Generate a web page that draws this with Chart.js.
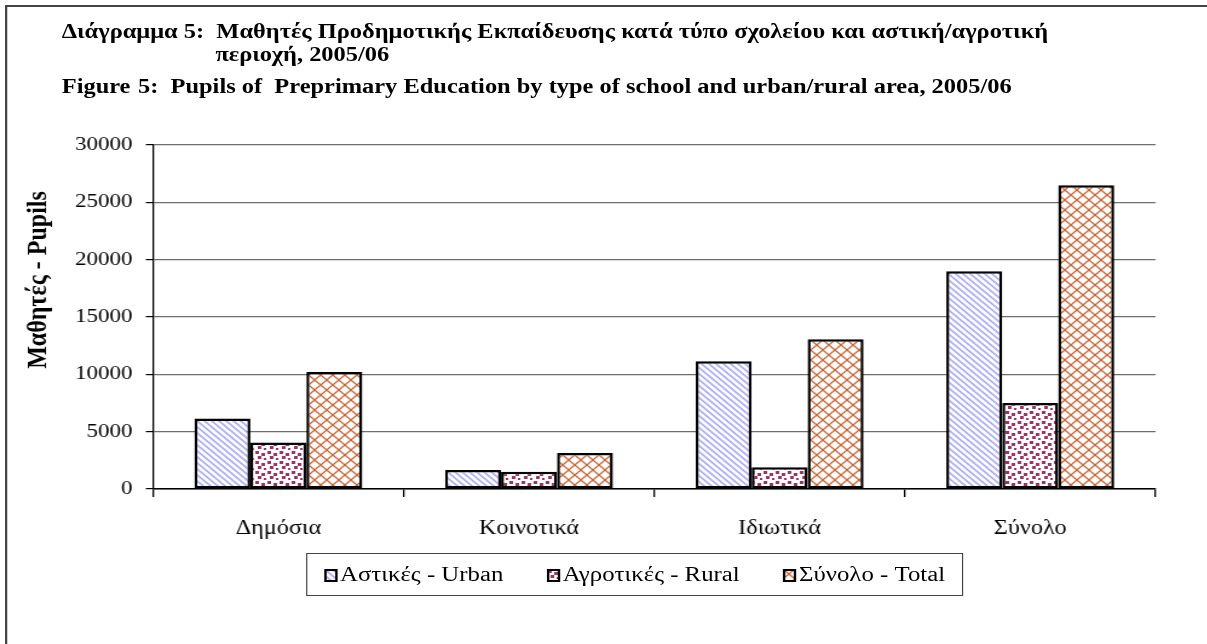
<!DOCTYPE html>
<html>
<head>
<meta charset="utf-8">
<script src="https://cdn.jsdelivr.net/npm/chart.js@4/dist/chart.umd.min.js"></script>
<style>
    body { margin: 0; background: #fff; }
    #wrap { position: relative; width: 1207px; height: 644px; overflow: hidden; }
    /* the reference is stretched sideways, so the whole stage is drawn narrow and scaled */
    #stage { position: absolute; left: 0; top: 0; width: 998px; height: 644px;
             transform: scaleX(1.21); transform-origin: 0 0; }
    #frame { position: absolute; left: 4px; top: 5px; width: 1100px; height: 700px;
             border-left: 2px solid #444; border-top: 2px solid #444; }
    .t { position: absolute; font: bold 20.2px "Liberation Serif", serif; white-space: pre; color: #000; }
    #legend { position: absolute; left: 253px; top: 553px; height: 41px; padding: 0 14px 0 14px;
              border: 1px solid #444; font: 20.5px "Liberation Serif", serif; white-space: nowrap; }
    .item { display: inline-block; margin-right: 36px; line-height: 41px; }
    .item:last-child { margin-right: 0; }
    .item canvas { vertical-align: -1px; margin-right: 2px; }
    canvas#chart { position: absolute; left: 0; top: 0; }
</style>
</head>
<body>
<div id="wrap">
  <div id="stage">
    <canvas id="chart" width="998" height="644"></canvas>
    <div id="frame"></div>
    <div class="t" style="left:51px; top:20px;">Διάγραμμα 5:  Μαθητές Προδημοτικής Εκπαίδευσης κατά τύπο σχολείου και αστική/αγροτική</div>
    <div class="t" style="left:178px; top:43px;">περιοχή, 2005/06</div>
    <div class="t" style="left:51px; top:75px;">Figure</div>
    <div class="t" style="left:114px; top:75px;">5:  Pupils of  Preprimary Education by type of school and urban/rural area, 2005/06</div>
    <div id="legend"></div>
  </div>
</div>
<script>
// data
const categories = ['Δημόσια', 'Κοινοτικά', 'Ιδιωτικά', 'Σύνολο'];
const seriesNames = ['Αστικές - Urban', 'Αγροτικές - Rural', 'Σύνολο - Total'];
const urban = [6150, 1650, 11150, 19000];
const rural = [4050, 1500, 1900, 7500];
const total = [10200, 3150, 13050, 26500];
const yTicks = [0, 5000, 10000, 15000, 20000, 25000, 30000];

// --- fill patterns, Excel style ---
function makeTile(size, draw) {
    const c = document.createElement('canvas');
    c.width = size; c.height = size;
    const g = c.getContext('2d');
    g.fillStyle = '#fff';
    g.fillRect(0, 0, size, size);
    draw(g, size);
    return c;
}

const urbanTile = makeTile(6, (g, s) => {
    g.strokeStyle = '#adadf5';
    g.lineWidth = 1.6;
    g.beginPath();
    g.moveTo(-1, -1); g.lineTo(s + 1, s + 1);
    g.moveTo(-1, s - 1); g.lineTo(1, s + 1);
    g.moveTo(s - 1, -1); g.lineTo(s + 1, 1);
    g.stroke();
});

const ruralTile = makeTile(10, (g) => {
    g.fillStyle = '#9c3464';
    g.fillRect(1, 1, 3, 3);
    g.fillRect(6, 3, 3, 3);
    g.fillRect(3, 6, 3, 3);
    g.fillRect(8, 8, 2, 2);
});

const totalTile = makeTile(10, (g, s) => {
    g.strokeStyle = '#c8683a';
    g.lineWidth = 1.3;
    g.beginPath();
    g.moveTo(0, 0); g.lineTo(s, s);
    g.moveTo(s, 0); g.lineTo(0, s);
    g.stroke();
});

const chartCanvas = document.getElementById('chart');
const ctx = chartCanvas.getContext('2d');
const tiles = [urbanTile, ruralTile, totalTile];
const patterns = tiles.map(t => ctx.createPattern(t, 'repeat'));

// legend (html)
const legend = document.getElementById('legend');
seriesNames.forEach((name, i) => {
    const item = document.createElement('span');
    item.className = 'item';
    const ic = document.createElement('canvas');
    ic.width = 11; ic.height = 13;
    const g = ic.getContext('2d');
    g.fillStyle = g.createPattern(tiles[i], 'repeat');
    g.fillRect(0, 0, 11, 13);
    g.strokeStyle = '#000';
    g.lineWidth = 2;
    g.strokeRect(1, 1, 9, 11);
    item.appendChild(ic);
    item.appendChild(document.createTextNode(name));
    legend.appendChild(item);
});

// rotated y-axis title
const yTitle = {
    id: 'yTitle',
    afterDraw(chart) {
        const c = chart.ctx;
        c.save();
        c.translate(32, 280);
        c.rotate(-Math.PI / 2);
        c.font = 'bold 24px "Liberation Serif", serif';
        c.fillStyle = '#000';
        c.textAlign = 'center';
        c.textBaseline = 'middle';
        c.fillText('Μαθητές - Pupils', 0, 0);
        c.restore();
    }
};

const tickFont = { family: '"Liberation Serif", serif', size: 19 };

new Chart(chartCanvas, {
    type: 'bar',
    data: {
        labels: categories,
        datasets: [
            { label: seriesNames[0], data: urban, backgroundColor: patterns[0] },
            { label: seriesNames[1], data: rural, backgroundColor: patterns[1] },
            { label: seriesNames[2], data: total, backgroundColor: patterns[2] }
        ].map(d => ({
            ...d,
            borderColor: '#000',
            borderWidth: 2.5,
            borderSkipped: false,
            categoryPercentage: 0.67,
            barPercentage: 1.0
        }))
    },
    options: {
        responsive: false,
        devicePixelRatio: 1,
        animation: false,
        layout: { padding: { left: 0, top: 145, right: 43, bottom: 95 } },
        plugins: {
            legend: { display: false },
            tooltip: { enabled: false }
        },
        scales: {
            x: {
                afterFit: s => { s.height = 60; },
                grid: {
                    offset: true,
                    drawOnChartArea: false,
                    tickLength: 8,
                    tickColor: '#000',
                    lineWidth: 1.3
                },
                border: { color: '#000', width: 1.5 },
                ticks: { color: '#000', font: { ...tickFont, size: 20 }, padding: 20 }
            },
            y: {
                min: 0,
                max: 30000,
                afterFit: s => { s.width = 126.5; },
                afterBuildTicks: s => { s.ticks = yTicks.map(v => ({ value: v })); },
                grid: {
                    color: '#6e6e6e',
                    lineWidth: 1.2,
                    tickLength: 6,
                    tickColor: '#000'
                },
                border: { color: '#000', width: 1.3 },
                ticks: { color: '#000', font: tickFont, padding: 11, callback: v => String(v) }
            }
        }
    },
    plugins: [yTitle]
});
</script>
</body>
</html>
